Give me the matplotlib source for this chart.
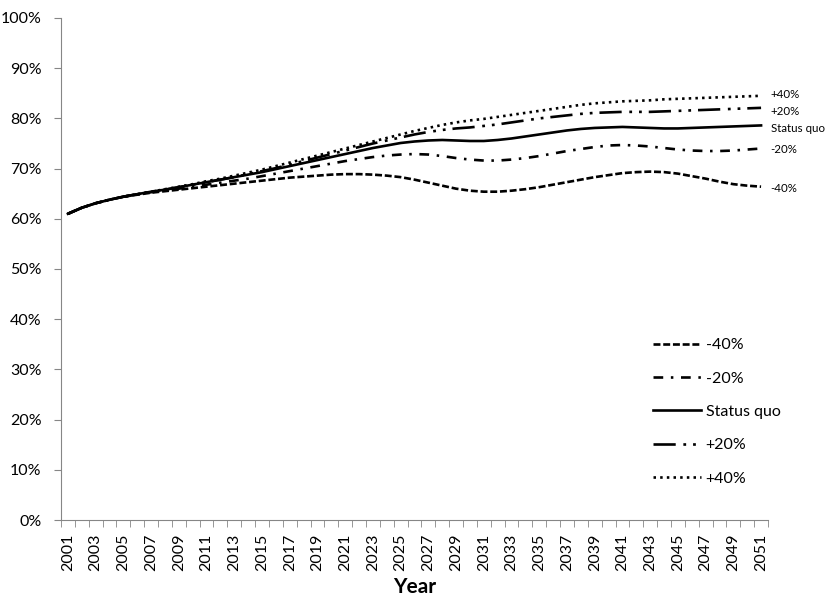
import matplotlib
matplotlib.use("Agg")
from matplotlib import pyplot as plt
from matplotlib.ticker import FixedLocator, PercentFormatter

plt.rcParams['font.family'] = ['Lato', 'DejaVu Sans']
plt.rcParams['lines.scale_dashes'] = False

years = list(range(2001, 2052))

minus40 = [61.0, 62.2, 63.1, 63.8, 64.4, 64.8, 65.2, 65.5, 65.8, 66.1,
           66.4, 66.7, 67.0, 67.3, 67.6, 67.9, 68.2, 68.4, 68.6, 68.8,
           68.9, 68.9, 68.8, 68.6, 68.3, 67.8, 67.2, 66.6, 66.0, 65.6,
           65.4, 65.4, 65.6, 65.9, 66.3, 66.8, 67.3, 67.8, 68.3, 68.7,
           69.1, 69.3, 69.4, 69.3, 69.0, 68.5, 68.0, 67.4, 66.9, 66.6, 66.4]
minus20 = [61.0, 62.2, 63.1, 63.8, 64.4, 64.9, 65.3, 65.7, 66.0, 66.4,
           66.8, 67.2, 67.6, 68.0, 68.5, 69.0, 69.5, 70.0, 70.5, 71.0,
           71.5, 71.9, 72.3, 72.6, 72.8, 72.9, 72.8, 72.5, 72.1, 71.8,
           71.6, 71.6, 71.8, 72.1, 72.5, 73.0, 73.5, 73.9, 74.3, 74.6,
           74.7, 74.6, 74.4, 74.1, 73.8, 73.6, 73.5, 73.5, 73.6, 73.8, 74.0]
status_quo = [61.0, 62.2, 63.1, 63.8, 64.4, 64.9, 65.4, 65.8, 66.3, 66.8,
              67.3, 67.8, 68.3, 68.8, 69.3, 69.9, 70.5, 71.1, 71.7, 72.3,
              72.9, 73.5, 74.1, 74.6, 75.1, 75.4, 75.6, 75.7, 75.6, 75.5,
              75.5, 75.7, 76.0, 76.4, 76.8, 77.2, 77.6, 77.9, 78.1, 78.2,
              78.3, 78.2, 78.1, 78.0, 78.0, 78.1, 78.2, 78.3, 78.4, 78.5, 78.6]
plus20 = [61.0, 62.2, 63.1, 63.8, 64.4, 64.9, 65.4, 65.8, 66.3, 66.8,
          67.3, 67.8, 68.3, 68.9, 69.5, 70.1, 70.8, 71.5, 72.2, 72.9,
          73.6, 74.3, 75.0, 75.6, 76.2, 76.8, 77.3, 77.7, 78.0, 78.2,
          78.5, 78.8, 79.2, 79.6, 80.0, 80.3, 80.6, 80.9, 81.1, 81.2,
          81.3, 81.3, 81.3, 81.4, 81.5, 81.6, 81.7, 81.8, 81.9, 82.0, 82.1]
plus40 = [61.0, 62.2, 63.1, 63.8, 64.4, 64.9, 65.4, 65.9, 66.4, 66.9,
          67.5, 68.0, 68.6, 69.2, 69.8, 70.5, 71.2, 71.9, 72.6, 73.3,
          74.0, 74.7, 75.4, 76.1, 76.8, 77.5, 78.1, 78.7, 79.2, 79.6,
          79.9, 80.3, 80.7, 81.1, 81.5, 81.9, 82.3, 82.7, 83.0, 83.2,
          83.4, 83.5, 83.6, 83.8, 83.9, 84.0, 84.1, 84.2, 84.3, 84.4, 84.5]

names = ['-40%', '-20%', 'Status quo', '+20%', '+40%']
series = [minus40, minus20, status_quo, plus20, plus40]
end_label_y = [66.1, 73.9, 77.9, 81.4, 84.7]

styles = [(0, (5, 2)),
          (0, (7, 5.5, 1.8, 5.5)),
          '-',
          (0, (16, 5.5, 2, 5, 2, 5)),
          (0, (1.8, 3))]

fig = plt.figure(figsize=(8.28, 6.06), dpi=100)
ax = fig.add_axes([61 / 828, 1 - 520 / 606, 707 / 828, 502 / 606])

for name, vals, ls in zip(names, series, styles):
    ax.plot(years, vals, color='black', lw=1.9, linestyle=ls, label=name)

for name, y in zip(names, end_label_y):
    ax.text(years[-1] + 0.7, y, name, fontsize=8.3, va='center', ha='left')

ax.set_xlim(2000.5, 2051.5)
ax.set_ylim(0, 100)
ax.yaxis.set_major_locator(FixedLocator(range(0, 101, 10)))
ax.yaxis.set_major_formatter(PercentFormatter(decimals=0))

ax.set_xticks(years[::2])
ax.set_xticklabels([str(y) for y in years[::2]], rotation=90)
ax.xaxis.set_minor_locator(FixedLocator([y - 0.5 for y in years] + [years[-1] + 0.5]))
ax.tick_params(axis='x', which='major', length=0, pad=10, labelsize=11.5)
ax.tick_params(axis='x', which='minor', length=5, color='#868686')
ax.tick_params(axis='y', length=5, color='#868686', pad=9, labelsize=11.5)

for side in ['top', 'right']:
    ax.spines[side].set_visible(False)
for side in ['left', 'bottom']:
    ax.spines[side].set_color('#868686')

ax.set_xlabel('Year', fontsize=15, fontweight='bold', labelpad=4)

ax.legend(loc='upper left', bbox_to_anchor=(645 / 828, 1 - 330 / 606),
          bbox_transform=fig.transFigure, frameon=False, borderpad=0,
          fontsize=11.5, handlelength=3, handletextpad=0.3, labelspacing=1.2)

fig.savefig('out.png', dpi=100)
